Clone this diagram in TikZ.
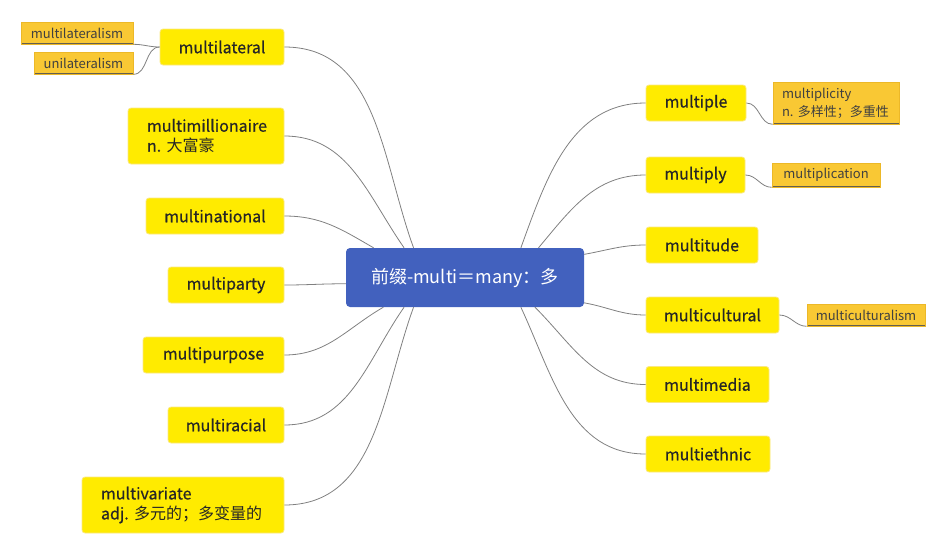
\documentclass[tikz,border=0pt]{standalone}
\usepackage{fontspec}
\setmainfont{Noto Sans CJK SC}
\newfontfamily\leaffont{Noto Sans CJK SC}[FakeBold=0.6]
\usepackage{tikz}
\definecolor{hub_blue}{RGB}{66, 97, 190}
\definecolor{leaf_yellow}{RGB}{255, 235, 0}
\definecolor{leaf_edge}{RGB}{250, 232, 130}
\definecolor{sub_gold}{RGB}{249, 200, 52}
\definecolor{sub_edge}{RGB}{236, 184, 40}
\definecolor{sub_line}{RGB}{100, 95, 80}
\definecolor{link_gray}{RGB}{128, 128, 128}
\tikzstyle{hub}=[rectangle,rounded corners=4pt,fill=hub_blue,text=white,
  font=\fontsize{18}{22}\selectfont,minimum width=238pt,minimum height=59pt,inner sep=0pt]
\tikzstyle{leaf}=[rectangle,rounded corners=3pt,fill=leaf_yellow,draw=leaf_edge,
  line width=0.8pt,text=black!85,font=\leaffont\fontsize{16}{20}\selectfont,
  minimum height=36pt,inner sep=0pt]
\tikzstyle{leaftwo}=[leaf,align=left,inner xsep=19pt,minimum height=56pt]
\tikzstyle{sub}=[rectangle,fill=sub_gold,draw=sub_edge,line width=0.6pt,
  text=black!75,font=\fontsize{13}{18}\selectfont,minimum height=22pt,inner sep=0pt,
  path picture={\draw [sub_line, line width=2pt] (path picture bounding box.south west)
    -- (path picture bounding box.south east);}]
\tikzstyle{link}=[draw=link_gray,line width=0.8pt]
\begin{document}
\begin{tikzpicture}[x=1pt, y=-1pt]
            \useasboundingbox (0, 0) rectangle (945, 555);
            \node [style=hub] (0) at (465, 277.5) {前缀-multi＝many：多};
            \node [style=leaf, minimum width=124pt] (1) at (222, 47) {multilateral};
            \node [style=leaftwo, text width=118pt] (2) at (206, 136) {multimillionaire\\n.~{\normalfont 大富豪}};
            \node [style=leaf, minimum width=138pt] (3) at (215, 216) {multinational};
            \node [style=leaf, minimum width=116pt] (4) at (226, 285) {multiparty};
            \node [style=leaf, minimum width=141pt] (5) at (213.5, 355) {multipurpose};
            \node [style=leaf, minimum width=116pt] (6) at (226, 425) {multiracial};
            \node [style=leaftwo, text width=164pt] (7) at (183, 505) {multivariate\\adj.~{\normalfont 多元的；多变量的}};
            \node [style=leaf, minimum width=100pt] (8) at (696, 103) {multiple};
            \node [style=leaf, minimum width=99pt] (9) at (695.5, 175) {multiply};
            \node [style=leaf, minimum width=112pt] (10) at (702, 245) {multitude};
            \node [style=leaf, minimum width=133pt] (11) at (712.5, 315) {multicultural};
            \node [style=leaf, minimum width=123pt] (12) at (707.5, 384.5) {multimedia};
            \node [style=leaf, minimum width=124pt] (13) at (708, 454) {multiethnic};
            \node [style=sub, minimum width=112pt] (14) at (77, 33) {multilateralism};
            \node [style=sub, minimum width=99pt] (15) at (83.5, 63) {unilateralism};
            \node [style=sub, align=left, text width=108pt, inner xsep=9pt, minimum height=42pt] (16) at (836, 103) {multiplicity\\n.~多样性；多重性};
            \node [style=sub, minimum width=108pt, minimum height=24pt] (17) at (826, 175) {multiplication};
            \node [style=sub, minimum width=118pt] (18) at (866, 315) {multiculturalism};
            \draw [style=link, out=110, in=0] (0.150) to (1);
            \draw [style=link, out=125, in=0] (0.154) to (2);
            \draw [style=link, out=150, in=0] (0.162) to (3);
            \draw [style=link, out=180, in=0] (0.183) to (4);
            \draw [style=link, out=210, in=0] (0.200) to (5);
            \draw [style=link, out=235, in=0] (0.206) to (6);
            \draw [style=link, out=250, in=0] (0.210) to (7);
            \draw [style=link, out=70, in=180] (0.28) to (8);
            \draw [style=link, out=50, in=180] (0.22) to (9);
            \draw [style=link, out=10, in=180] (0.11) to (10);
            \draw [style=link, out=-10, in=180] (0.-12) to (11);
            \draw [style=link, out=-45, in=180] (0.-23) to (12);
            \draw [style=link, out=-65, in=180] (0.-28.5) to (13);
            \draw [style=link, out=180, in=0] (1) to (14.south east);
            \draw [style=link, out=180, in=0] (1) to (15.south east);
            \draw [style=link, out=0, in=180] (8) to (16.south west);
            \draw [style=link, out=0, in=180] (9) to (17.south west);
            \draw [style=link, out=0, in=180] (11) to (18.south west);
    \end{tikzpicture}
\end{document}
